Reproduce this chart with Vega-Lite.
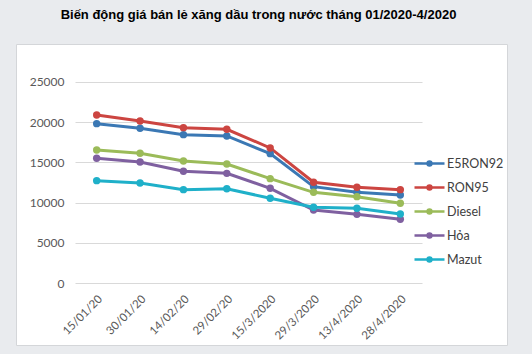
{
  "$schema": "https://vega.github.io/schema/vega-lite/v6.json",
  "width": 491,
  "height": 301,
  "autosize": {"type": "none"},
  "padding": {"left": 16, "top": 44, "right": 25, "bottom": 9},
  "background": "#e9ebee",
  "title": {
    "text": "Biến động giá bán lẻ xăng dầu trong nước tháng 01/2020-4/2020",
    "font": "Liberation Sans",
    "fontSize": 13,
    "fontWeight": "bold",
    "color": "#000000",
    "anchor": "middle",
    "dx": -3,
    "offset": 22
  },
  "config": {
    "view": {"fill": "#ffffff", "stroke": "#d4d6d9", "strokeWidth": 1}
  },
  "data": {
    "values": [
      {"date": "15/01/20", "type": "E5RON92", "price": 19820},
      {"date": "30/01/20", "type": "E5RON92", "price": 19240},
      {"date": "14/02/20", "type": "E5RON92", "price": 18450},
      {"date": "29/02/20", "type": "E5RON92", "price": 18290},
      {"date": "15/3/2020", "type": "E5RON92", "price": 16090},
      {"date": "29/3/2020", "type": "E5RON92", "price": 11980},
      {"date": "13/4/2020", "type": "E5RON92", "price": 11280},
      {"date": "28/4/2020", "type": "E5RON92", "price": 10950},
      {"date": "15/01/20", "type": "RON95", "price": 20900},
      {"date": "30/01/20", "type": "RON95", "price": 20150},
      {"date": "14/02/20", "type": "RON95", "price": 19320},
      {"date": "29/02/20", "type": "RON95", "price": 19120},
      {"date": "15/3/2020", "type": "RON95", "price": 16800},
      {"date": "29/3/2020", "type": "RON95", "price": 12530},
      {"date": "13/4/2020", "type": "RON95", "price": 11900},
      {"date": "28/4/2020", "type": "RON95", "price": 11610},
      {"date": "15/01/20", "type": "Diesel", "price": 16540},
      {"date": "30/01/20", "type": "Diesel", "price": 16130},
      {"date": "14/02/20", "type": "Diesel", "price": 15180},
      {"date": "29/02/20", "type": "Diesel", "price": 14800},
      {"date": "15/3/2020", "type": "Diesel", "price": 12980},
      {"date": "29/3/2020", "type": "Diesel", "price": 11280},
      {"date": "13/4/2020", "type": "Diesel", "price": 10740},
      {"date": "28/4/2020", "type": "Diesel", "price": 9910},
      {"date": "15/01/20", "type": "Hỏa", "price": 15510},
      {"date": "30/01/20", "type": "Hỏa", "price": 15050},
      {"date": "14/02/20", "type": "Hỏa", "price": 13890},
      {"date": "29/02/20", "type": "Hỏa", "price": 13640},
      {"date": "15/3/2020", "type": "Hỏa", "price": 11780},
      {"date": "29/3/2020", "type": "Hỏa", "price": 9080},
      {"date": "13/4/2020", "type": "Hỏa", "price": 8540},
      {"date": "28/4/2020", "type": "Hỏa", "price": 7920},
      {"date": "15/01/20", "type": "Mazut", "price": 12730},
      {"date": "30/01/20", "type": "Mazut", "price": 12440},
      {"date": "14/02/20", "type": "Mazut", "price": 11610},
      {"date": "29/02/20", "type": "Mazut", "price": 11730},
      {"date": "15/3/2020", "type": "Mazut", "price": 10540},
      {"date": "29/3/2020", "type": "Mazut", "price": 9420},
      {"date": "13/4/2020", "type": "Mazut", "price": 9290},
      {"date": "28/4/2020", "type": "Mazut", "price": 8580}
    ]
  },
  "mark": {"type": "line", "strokeWidth": 3, "point": {"filled": true, "size": 55}},
  "encoding": {
    "x": {
      "field": "date",
      "type": "ordinal",
      "sort": ["15/01/20", "30/01/20", "14/02/20", "29/02/20", "15/3/2020", "29/3/2020", "13/4/2020", "28/4/2020"],
      "scale": {"type": "band", "range": [59, 406], "paddingInner": 0, "paddingOuter": 0, "round": false},
      "axis": {
        "title": null,
        "offset": -62,
        "domain": false,
        "ticks": false,
        "grid": false,
        "labelAngle": -45,
        "labelAlign": "right",
        "labelBaseline": "top",
        "labelPadding": 10,
        "labelFont": "Lato",
        "labelFontSize": 11.5,
        "labelColor": "#595959"
      }
    },
    "y": {
      "field": "price",
      "type": "quantitative",
      "scale": {"domain": [-7711, 29726], "nice": false, "zero": false},
      "axis": {
        "title": null,
        "values": [0, 5000, 10000, 15000, 20000, 25000],
        "format": "d",
        "domain": false,
        "ticks": false,
        "grid": true,
        "gridColor": "#d9d9d9",
        "gridWidth": 1,
        "labelAlign": "right",
        "labelPadding": -48,
        "labelFont": "Lato",
        "labelFontSize": 12,
        "labelColor": "#595959"
      }
    },
    "color": {
      "field": "type",
      "type": "nominal",
      "scale": {
        "domain": ["E5RON92", "RON95", "Diesel", "Hỏa", "Mazut"],
        "range": ["#3b78b4", "#cc4541", "#9bbb59", "#7f60a0", "#1fb0c9"]
      },
      "legend": {
        "title": null,
        "orient": "none",
        "legendX": 397,
        "legendY": 103,
        "padding": 0,
        "symbolType": "M-1,0H1M0.13,0A0.13,0.13,0,1,1,-0.13,0A0.13,0.13,0,1,1,0.13,0",
        "symbolSize": 900,
        "symbolStrokeWidth": 2.5,
        "rowPadding": -6,
        "labelOffset": 1,
        "labelFont": "Lato",
        "labelFontSize": 12.5,
        "labelColor": "#404040",
        "encode": {
          "symbols": {"update": {"fill": {"scale": "color", "field": "value"}, "stroke": {"scale": "color", "field": "value"}, "opacity": {"value": 1}}}
        }
      }
    }
  }
}
